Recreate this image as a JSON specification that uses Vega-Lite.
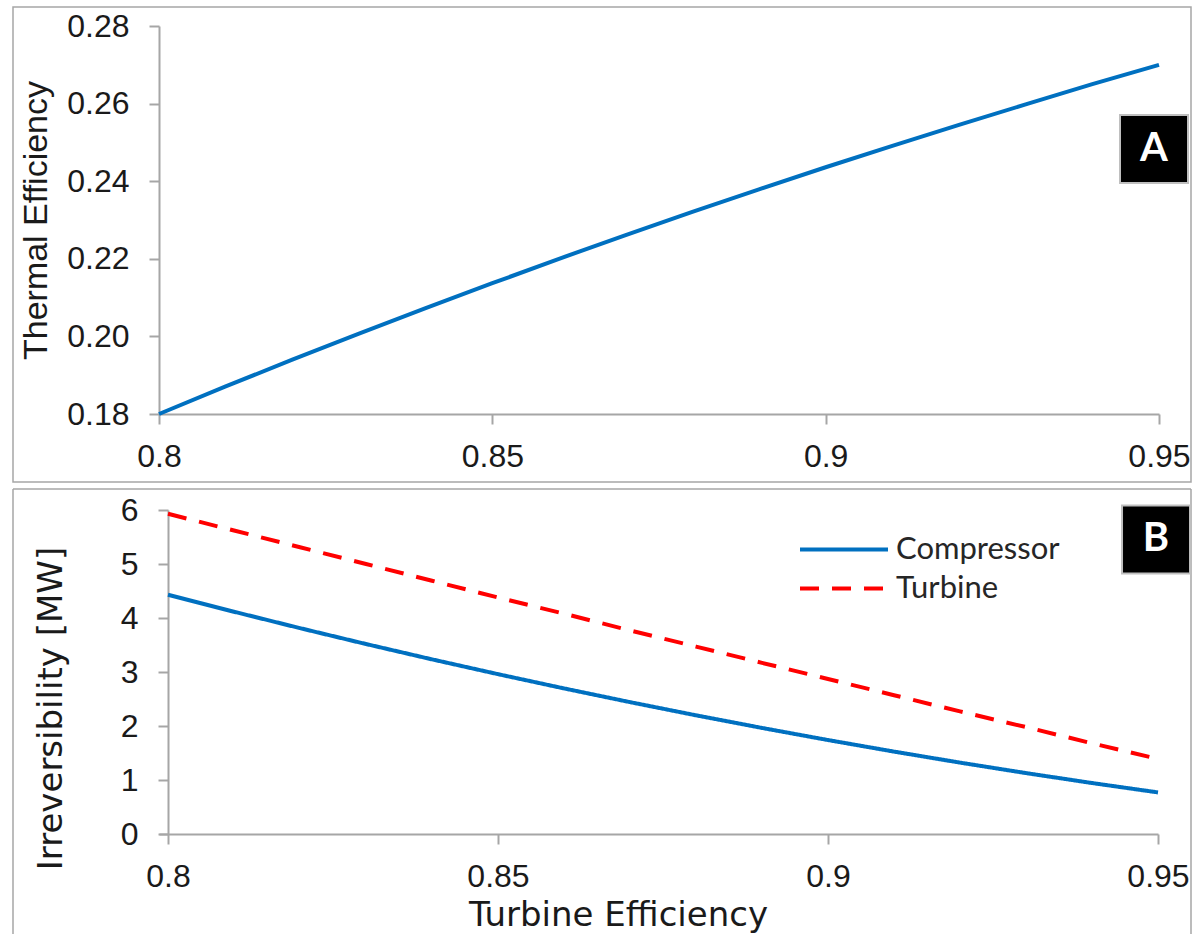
{
  "$schema": "https://vega.github.io/schema/vega-lite/v6.json",
  "background": "white",
  "padding": {"left": 12, "top": 6, "right": 0, "bottom": 0},
  "spacing": 5,
  "config": {
    "view": {"stroke": null},
    "font": "Liberation Sans",
    "axis": {
      "grid": false,
      "domainColor": "#A6A6A6",
      "domainWidth": 2,
      "tickColor": "#A6A6A6",
      "tickWidth": 2,
      "tickSize": 10,
      "labelFont": "Liberation Sans",
      "labelFontSize": 32,
      "labelColor": "#1a1a1a",
      "labelFlush": false,
      "labelOverlap": false,
      "titleFont": "Liberation Sans",
      "titleFontSize": 34,
      "titleFontWeight": "normal",
      "titleColor": "#1a1a1a"
    }
  },
  "vconcat": [
    {
      "width": 1000,
      "height": 388,
      "data": {
        "values": [
          {"eta": 0.80, "thermal": 0.1800},
          {"eta": 0.81, "thermal": 0.1871},
          {"eta": 0.82, "thermal": 0.1940},
          {"eta": 0.83, "thermal": 0.2007},
          {"eta": 0.84, "thermal": 0.2073},
          {"eta": 0.85, "thermal": 0.2137},
          {"eta": 0.86, "thermal": 0.2200},
          {"eta": 0.87, "thermal": 0.2261},
          {"eta": 0.88, "thermal": 0.2321},
          {"eta": 0.89, "thermal": 0.2379},
          {"eta": 0.90, "thermal": 0.2436},
          {"eta": 0.91, "thermal": 0.2491},
          {"eta": 0.92, "thermal": 0.2545},
          {"eta": 0.93, "thermal": 0.2598},
          {"eta": 0.94, "thermal": 0.2650},
          {"eta": 0.95, "thermal": 0.2700}
        ]
      },
      "layer": [
        {
          "data": {"values": [{}]},
          "mark": {"type": "rect", "fill": "white", "fillOpacity": 0, "stroke": "#A6A6A6", "strokeWidth": 1.5, "clip": false},
          "encoding": {
            "x": {"datum": 0.7781, "type": "quantitative"},
            "x2": {"datum": 0.9548},
            "y": {"datum": 0.2849, "type": "quantitative"},
            "y2": {"datum": 0.16247}
          }
        },
        {
          "mark": {"type": "line", "color": "#0070C0", "strokeWidth": 4},
          "encoding": {
            "x": {
              "field": "eta", "type": "quantitative",
              "scale": {"domain": [0.8, 0.95], "nice": false, "zero": false},
              "axis": {"values": [0.8, 0.85, 0.9, 0.95], "format": "~g", "title": null, "labelPadding": 17}
            },
            "y": {
              "field": "thermal", "type": "quantitative",
              "scale": {"domain": [0.18, 0.28], "nice": false, "zero": false},
              "axis": {"values": [0.18, 0.2, 0.22, 0.24, 0.26, 0.28], "format": ".2f", "title": "Thermal Efficiency", "labelPadding": 20, "titlePadding": 13}
            }
          }
        },
        {
          "data": {"values": [{"tag": "A"}]},
          "mark": {"type": "point", "shape": "square", "size": 4624, "filled": true, "fill": "black", "stroke": "#BFBFBF", "strokeWidth": 2, "opacity": 1},
          "encoding": {
            "x": {"datum": 0.94925, "type": "quantitative"},
            "y": {"datum": 0.2483, "type": "quantitative"}
          }
        },
        {
          "data": {"values": [{"tag": "A"}]},
          "mark": {"type": "text", "color": "white", "font": "Lato", "fontWeight": "bold", "fontSize": 40, "align": "center", "baseline": "middle"},
          "encoding": {
            "x": {"datum": 0.94925, "type": "quantitative"},
            "y": {"datum": 0.2483, "type": "quantitative"},
            "text": {"field": "tag"}
          }
        }
      ]
    },
    {
      "width": 999,
      "height": 324,
      "data": {
        "values": [
          {"series": "Compressor", "eta": 0.80, "irr": 4.43},
          {"series": "Compressor", "eta": 0.81, "irr": 4.116},
          {"series": "Compressor", "eta": 0.82, "irr": 3.812},
          {"series": "Compressor", "eta": 0.83, "irr": 3.518},
          {"series": "Compressor", "eta": 0.84, "irr": 3.234},
          {"series": "Compressor", "eta": 0.85, "irr": 2.96},
          {"series": "Compressor", "eta": 0.86, "irr": 2.696},
          {"series": "Compressor", "eta": 0.87, "irr": 2.442},
          {"series": "Compressor", "eta": 0.88, "irr": 2.198},
          {"series": "Compressor", "eta": 0.89, "irr": 1.964},
          {"series": "Compressor", "eta": 0.90, "irr": 1.74},
          {"series": "Compressor", "eta": 0.91, "irr": 1.526},
          {"series": "Compressor", "eta": 0.92, "irr": 1.322},
          {"series": "Compressor", "eta": 0.93, "irr": 1.128},
          {"series": "Compressor", "eta": 0.94, "irr": 0.944},
          {"series": "Compressor", "eta": 0.95, "irr": 0.77},
          {"series": "Turbine", "eta": 0.80, "irr": 5.93},
          {"series": "Turbine", "eta": 0.81, "irr": 5.62},
          {"series": "Turbine", "eta": 0.82, "irr": 5.31},
          {"series": "Turbine", "eta": 0.83, "irr": 5.0},
          {"series": "Turbine", "eta": 0.84, "irr": 4.69},
          {"series": "Turbine", "eta": 0.85, "irr": 4.38},
          {"series": "Turbine", "eta": 0.86, "irr": 4.08},
          {"series": "Turbine", "eta": 0.87, "irr": 3.77},
          {"series": "Turbine", "eta": 0.88, "irr": 3.47},
          {"series": "Turbine", "eta": 0.89, "irr": 3.17},
          {"series": "Turbine", "eta": 0.90, "irr": 2.87},
          {"series": "Turbine", "eta": 0.91, "irr": 2.57},
          {"series": "Turbine", "eta": 0.92, "irr": 2.27},
          {"series": "Turbine", "eta": 0.93, "irr": 1.98},
          {"series": "Turbine", "eta": 0.94, "irr": 1.68},
          {"series": "Turbine", "eta": 0.95, "irr": 1.39}
        ]
      },
      "layer": [
        {
          "data": {"values": [{}]},
          "mark": {"type": "rule", "color": "#A6A6A6", "strokeWidth": 1.5, "clip": false},
          "encoding": {
            "x": {"datum": 0.776515, "type": "quantitative"},
            "y": {"datum": 6.3889, "type": "quantitative"},
            "y2": {"datum": -1.8704}
          }
        },
        {
          "data": {"values": [{}]},
          "mark": {"type": "rule", "color": "#A6A6A6", "strokeWidth": 1.5, "clip": false},
          "encoding": {
            "x": {"datum": 0.955, "type": "quantitative"},
            "y": {"datum": 6.3889, "type": "quantitative"},
            "y2": {"datum": -1.8704}
          }
        },
        {
          "data": {"values": [{}]},
          "mark": {"type": "rule", "color": "#A6A6A6", "strokeWidth": 1.5, "clip": false},
          "encoding": {
            "x": {"datum": 0.776515, "type": "quantitative"},
            "x2": {"datum": 0.955},
            "y": {"datum": 6.3889, "type": "quantitative"}
          }
        },
        {
          "mark": {"type": "line", "strokeWidth": 4},
          "encoding": {
            "x": {
              "field": "eta", "type": "quantitative",
              "scale": {"domain": [0.798636, 0.95], "nice": false, "zero": false},
              "axis": {"values": [0.8, 0.85, 0.9, 0.95], "format": "~g", "title": "Turbine Efficiency", "titleFont": "DejaVu Sans", "titleFontSize": 34, "titleX": 459, "labelPadding": 17, "titlePadding": 6}
            },
            "y": {
              "field": "irr", "type": "quantitative",
              "scale": {"domain": [0, 6], "nice": false, "zero": false},
              "axis": {"values": [0, 1, 2, 3, 4, 5, 6], "format": "d", "title": "Irreversibility [MW]", "titleFont": "DejaVu Sans", "titleFontSize": 34, "offset": -9, "labelPadding": 20, "titlePadding": 52, "titleY": 198}
            },
            "color": {
              "field": "series", "type": "nominal",
              "scale": {"domain": ["Compressor", "Turbine"], "range": ["#0070C0", "#FF0000"]},
              "legend": {"title": null, "orient": "none", "legendX": 639, "legendY": 504, "symbolType": "stroke", "symbolSize": 7744, "symbolStrokeWidth": 4, "labelFont": "Lato", "labelFontSize": 31, "labelColor": "#262626", "labelOffset": 6, "labelLimit": 400, "clipHeight": 39, "rowPadding": 0, "padding": 0}
            },
            "strokeDash": {
              "field": "series", "type": "nominal",
              "scale": {"domain": ["Compressor", "Turbine"], "range": [[1, 0], [19, 13]]},
              "legend": {"title": null, "orient": "none", "legendX": 639, "legendY": 504, "symbolType": "stroke", "symbolSize": 7744, "symbolStrokeWidth": 4, "labelFont": "Lato", "labelFontSize": 31, "labelColor": "#262626", "labelOffset": 6, "labelLimit": 400, "clipHeight": 39, "rowPadding": 0, "padding": 0}
            }
          }
        },
        {
          "data": {"values": [{"tag": "B"}]},
          "mark": {"type": "point", "shape": "square", "size": 4624, "filled": true, "fill": "black", "stroke": "#BFBFBF", "strokeWidth": 2, "opacity": 1},
          "encoding": {
            "x": {"datum": 0.9497, "type": "quantitative"},
            "y": {"datum": 5.454, "type": "quantitative"}
          }
        },
        {
          "data": {"values": [{"tag": "B"}]},
          "mark": {"type": "text", "color": "white", "font": "Lato", "fontWeight": "bold", "fontSize": 40, "align": "center", "baseline": "middle"},
          "encoding": {
            "x": {"datum": 0.9497, "type": "quantitative"},
            "y": {"datum": 5.454, "type": "quantitative"},
            "text": {"field": "tag"}
          }
        }
      ]
    }
  ]
}
